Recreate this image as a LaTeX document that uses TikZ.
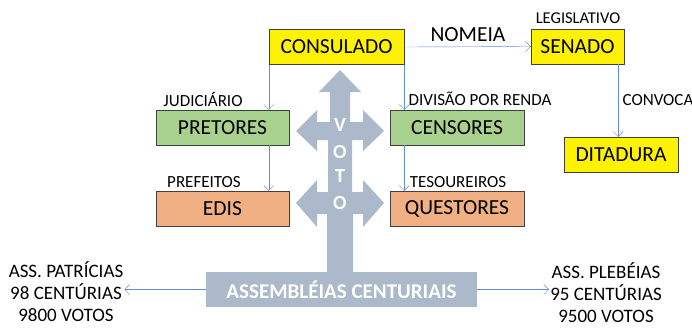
\documentclass[tikz,border=0pt]{standalone}
\usepackage{fontspec}
\setmainfont{Carlito}
\usetikzlibrary{calc,arrows.meta}
\definecolor{votogrey}{RGB}{172,185,202}
\definecolor{linkblue}{RGB}{100,140,214}
\definecolor{boxgreen}{RGB}{169,209,142}
\definecolor{boxorange}{RGB}{241,176,131}
\tikzstyle{office} = [draw=black!75,thin,minimum height=35pt,inner sep=0pt,font=\fontsize{21.5}{21.5}\selectfont]
\tikzstyle{lbl} = [inner sep=0pt,font=\fontsize{17}{17}\selectfont]
\tikzstyle{votoletter} = [inner sep=0pt,text=white,font=\fontsize{20}{20}\selectfont\bfseries]
\tikzstyle{link} = [-{Straight Barb[length=5pt,width=10pt]},linkblue,thin]

\begin{document}
\begin{tikzpicture}[x=1pt,y=-1pt]
			\useasboundingbox (0,0) rectangle (692,327);
			% grey cross of the votes
			\fill[votogrey] (340,70) -- (361,92) -- (350,92) -- (350,122) -- (363,122) -- (363,110) -- (384,131) -- (363,151) -- (363,140) -- (352,140)
				-- (352,192) -- (363,192) -- (363,180) -- (384,203) -- (363,227) -- (363,214) -- (353,214) -- (353,272) -- (327,272) -- (327,214)
				-- (317,214) -- (317,227) -- (296,203) -- (317,180) -- (317,192) -- (328,192) -- (328,140) -- (317,140) -- (317,151) -- (296,131)
				-- (317,110) -- (317,122) -- (330,122) -- (330,92) -- (319,92) -- cycle;
			\node[votoletter] (v1) at (340,125) {V};
			\node[votoletter] (o1) at (340,152) {O};
			\node[votoletter] (t1) at (340,176) {T};
			\node[votoletter] (o2) at (340,203) {O};
			
			\node[office,fill=yellow,minimum width=135pt] (consulado) at (336.5,47) {CONSULADO};
			\node[office,fill=yellow,minimum width=93pt] (senado) at (577.5,46.5) {SENADO};
			\node[office,fill=yellow,minimum width=114pt] (ditadura) at (621,154.5) {DITADURA};
			\node[office,fill=boxgreen,minimum width=133pt] (pretores) at (222.5,127.5) {PRETORES};
			\node[office,fill=boxgreen,minimum width=134pt] (censores) at (457,127.5) {CENSORES};
			\node[office,fill=boxorange,minimum width=133pt] (edis) at (222.5,208.5) {EDIS};
			\node[office,fill=boxorange,minimum width=134pt] (questores) at (457,208.5) {QUESTORES};
			\node[fill=votogrey,text=white,minimum width=271pt,minimum height=35pt,inner sep=0pt,font=\fontsize{21}{21}\selectfont\bfseries] (assembleias) at (341.5,289.5) {ASSEMBLÉIAS CENTURIAIS};
			
			\node[lbl,font=\fontsize{21.5}{21.5}\selectfont] (nomeia) at (468,35) {NOMEIA};
			\node[lbl,font=\fontsize{16.5}{16.5}\selectfont] (legislativo) at (578,18) {LEGISLATIVO};
			\node[lbl] (convoca) at (658,100) {CONVOCA};
			\node[lbl] (judiciario) at (203,99) {JUDICIÁRIO};
			\node[lbl] (divisao) at (480,99) {DIVISÃO POR RENDA};
			\node[lbl] (prefeitos) at (204,182) {PREFEITOS};
			\node[lbl] (tesoureiros) at (458,182) {TESOUREIROS};
			\node[align=center,inner sep=0pt,font=\fontsize{19}{22}\selectfont] (patricias) at (66,292) {ASS. PATRÍCIAS\\98 CENTÚRIAS\\9800 VOTOS};
			\node[align=center,inner sep=0pt,font=\fontsize{19}{22}\selectfont] (plebeias) at (606,293) {ASS. PLEBÉIAS\\95 CENTÚRIAS\\9500 VOTOS};
			
			\coordinate (convtop) at ([xshift=-6pt]senado.south east);
			\draw[link] (consulado.east) -- (senado.west);
			\draw[link] (consulado.south west) -- (consulado.south west |- pretores.north);
			\draw[link] (consulado.south east) -- (consulado.south east |- censores.north);
			\draw[link] (consulado.south west |- pretores.south) -- (consulado.south west |- edis.north);
			\draw[link] (consulado.south east |- censores.south) -- (consulado.south east |- questores.north);
			\draw[link] (convtop) -- (convtop |- ditadura.north);
			\draw[link] (assembleias.west) -- ([xshift=1pt]assembleias.west -| patricias.east);
			\draw[link] (assembleias.east) -- ([xshift=-1pt]assembleias.east -| plebeias.west);
		\end{tikzpicture}
\end{document}
